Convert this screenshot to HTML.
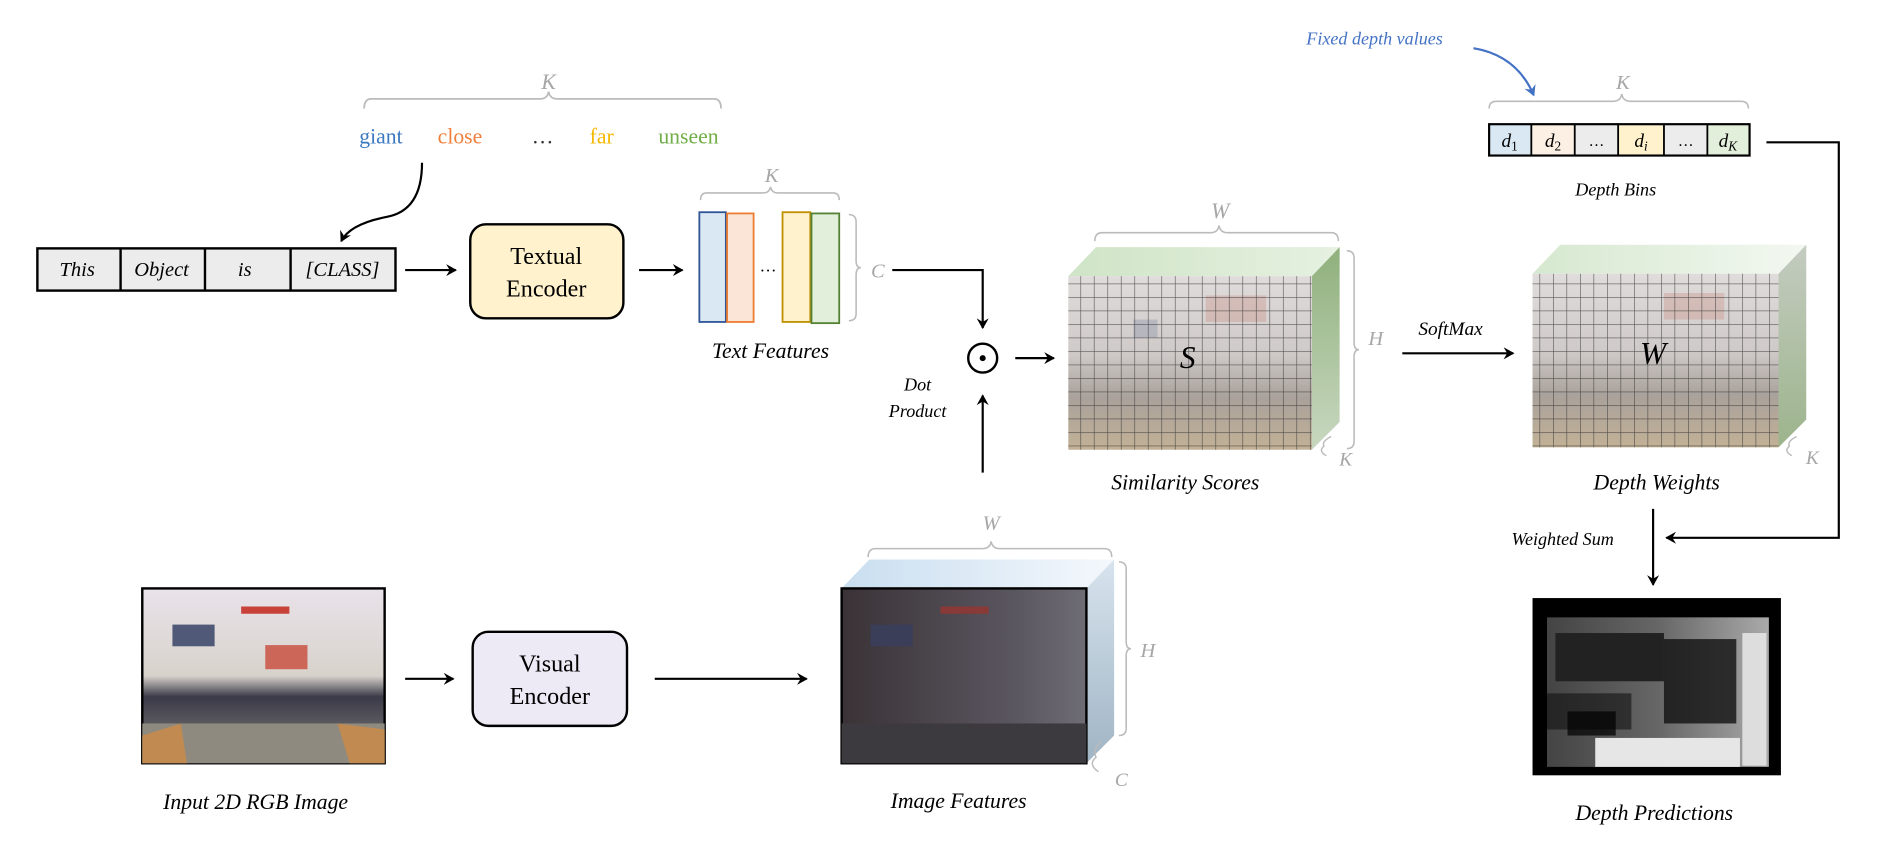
<!DOCTYPE html>
<html><head><meta charset="utf-8"><style>
html,body{margin:0;padding:0;background:#fff;}
svg{display:block;}
text{font-family:"Liberation Serif",serif;}
.g{fill:#a6a6a6;font-style:italic;}
</style></head><body>
<svg width="1881" height="852" viewBox="0 0 1560 706.6" preserveAspectRatio="none" xmlns="http://www.w3.org/2000/svg">
<defs>
<marker id="ah" markerWidth="10" markerHeight="10" refX="8" refY="5" orient="auto" markerUnits="userSpaceOnUse">
<path d="M0,0 L9,5 L0,10 L3,5 Z" fill="#000"/></marker>
<marker id="ahb" markerWidth="10" markerHeight="10" refX="8" refY="5" orient="auto" markerUnits="userSpaceOnUse">
<path d="M0,0 L9,5 L0,10 L3,5 Z" fill="#4472c4"/></marker>
<pattern id="grid" width="11.2" height="11.2" patternUnits="userSpaceOnUse">
<path d="M11.2,0 L0,0 0,11.2" fill="none" stroke="#333" stroke-width="1" opacity="0.8"/></pattern>
<linearGradient id="room" x1="0" y1="0" x2="0" y2="1">
<stop offset="0" stop-color="#e0dcdc"/><stop offset="0.45" stop-color="#cfcac8"/><stop offset="0.7" stop-color="#a9a19b"/><stop offset="1" stop-color="#c2b196"/></linearGradient>
<linearGradient id="topg" x1="0" y1="0" x2="1" y2="0"><stop offset="0" stop-color="#cfe4c6"/><stop offset="1" stop-color="#e6f1e1"/></linearGradient>
<linearGradient id="topg2" x1="0" y1="0" x2="1" y2="0"><stop offset="0" stop-color="#d6e8cf"/><stop offset="1" stop-color="#f3f8f1"/></linearGradient>
<linearGradient id="sideg" x1="0" y1="0" x2="0" y2="1"><stop offset="0" stop-color="#8fb07c"/><stop offset="1" stop-color="#c8d8c0"/></linearGradient>
<linearGradient id="sideg2" x1="0" y1="0" x2="0" y2="1"><stop offset="0" stop-color="#c4ccc0"/><stop offset="1" stop-color="#9cb48c"/></linearGradient>
<linearGradient id="topb" x1="0" y1="0" x2="1" y2="0"><stop offset="0" stop-color="#c9def0"/><stop offset="1" stop-color="#f4f8fc"/></linearGradient>
<linearGradient id="sideb" x1="0" y1="0" x2="0" y2="1"><stop offset="0" stop-color="#d8e4ee"/><stop offset="1" stop-color="#9fb4c4"/></linearGradient>
<linearGradient id="photo" x1="0" y1="0" x2="0" y2="1"><stop offset="0" stop-color="#e9e3ea"/><stop offset="0.5" stop-color="#d8d2cc"/><stop offset="0.62" stop-color="#3a3a48"/><stop offset="1" stop-color="#8a8680"/></linearGradient>
<linearGradient id="dark" x1="0" y1="0" x2="1" y2="0"><stop offset="0" stop-color="#3a3236"/><stop offset="0.7" stop-color="#5a5660"/><stop offset="1" stop-color="#6e6c74"/></linearGradient>
<linearGradient id="dep" x1="0" y1="0" x2="1" y2="0"><stop offset="0" stop-color="#444"/><stop offset="0.5" stop-color="#666"/><stop offset="1" stop-color="#aaa"/></linearGradient>
</defs>

<text x="455" y="74" class="g" font-size="18" text-anchor="middle">K</text>
<path d="M302,90 Q302,82 308,82 L448,82 Q454,82 455,76 Q456,82 462,82 L592,82 Q598,82 598,90" fill="none" stroke="#bbb" stroke-width="1.5"/>
<g font-size="18">
<text x="298" y="119" fill="#3a78c0">giant</text>
<text x="363" y="119" fill="#f07f3c">close</text>
<text x="441" y="119" fill="#333">…</text>
<text x="489" y="119" fill="#f5b800">far</text>
<text x="546" y="119" fill="#70ad47">unseen</text>
</g>
<path d="M350,135 Q350,175 320,180 Q290,186 283,200" fill="none" stroke="#000" stroke-width="1.8" marker-end="url(#ah)"/>

<rect x="31" y="206" width="297" height="35" fill="#ececec" stroke="#000" stroke-width="2"/>
<line x1="100" y1="206" x2="100" y2="241" stroke="#000" stroke-width="2"/>
<line x1="170" y1="206" x2="170" y2="241" stroke="#000" stroke-width="2"/>
<line x1="241" y1="206" x2="241" y2="241" stroke="#000" stroke-width="2"/>
<g font-size="17" text-anchor="middle" font-style="italic">
<text x="64" y="229">This</text><text x="134" y="229">Object</text><text x="203" y="229">is</text><text x="284" y="229">[CLASS]</text></g>
<line x1="336" y1="224" x2="378" y2="224" stroke="#000" stroke-width="1.8" marker-end="url(#ah)"/>
<rect x="390" y="186" width="127" height="78" rx="13" fill="#fff2cc" stroke="#000" stroke-width="2"/>
<text x="453" y="219" font-size="20" text-anchor="middle">Textual</text>
<text x="453" y="246" font-size="20" text-anchor="middle">Encoder</text>
<line x1="530" y1="224" x2="566" y2="224" stroke="#000" stroke-width="1.8" marker-end="url(#ah)"/>

<text x="640" y="151" class="g" font-size="17" text-anchor="middle">K</text>
<path d="M581,166 Q581,160 586,160 L633,160 Q638,160 639,155 Q640,160 645,160 L691,160 Q696,160 696,166" fill="none" stroke="#bbb" stroke-width="1.3"/>
<rect x="580" y="176" width="22" height="91" fill="#dae8f4" stroke="#2f5597" stroke-width="1.5"/>
<rect x="603" y="177" width="22" height="90" fill="#fbe5d6" stroke="#ed7d31" stroke-width="1.5"/>
<text x="630" y="225" font-size="14">…</text>
<rect x="649" y="176" width="23" height="91" fill="#fff2cc" stroke="#c09000" stroke-width="1.5"/>
<rect x="673" y="177" width="23" height="91" fill="#e2efda" stroke="#548235" stroke-width="1.5"/>
<path d="M704,178 Q710,178 710,184 L710,216 Q710,222 714,222 Q710,222 710,228 L710,260 Q710,266 704,266" fill="none" stroke="#bbb" stroke-width="1.3"/>
<text x="728" y="230" class="g" font-size="17" text-anchor="middle">C</text>
<text x="639" y="297" font-size="18" font-style="italic" text-anchor="middle">Text Features</text>

<polyline points="740,224 815,224 815,272" fill="none" stroke="#000" stroke-width="1.8" marker-end="url(#ah)"/>
<circle cx="815" cy="297" r="12" fill="none" stroke="#000" stroke-width="2"/>
<circle cx="815" cy="297" r="2.5" fill="#000"/>
<line x1="815" y1="392" x2="815" y2="328" stroke="#000" stroke-width="1.8" marker-end="url(#ah)"/>
<text x="761" y="324" font-size="15" font-style="italic" text-anchor="middle">Dot</text>
<text x="761" y="346" font-size="15" font-style="italic" text-anchor="middle">Product</text>
<line x1="842" y1="297" x2="874" y2="297" stroke="#000" stroke-width="1.8" marker-end="url(#ah)"/>

<text x="1012" y="181" class="g" font-size="18" text-anchor="middle">W</text>
<path d="M908,200 Q908,193 914,193 L1004,193 Q1010,193 1011,187 Q1012,193 1018,193 L1104,193 Q1110,193 1110,200" fill="none" stroke="#bbb" stroke-width="1.3"/>
<polygon points="886,229 1088,229 1111,205 909,205" fill="url(#topg)"/>
<polygon points="1088,229 1111,205 1111,350 1088,373" fill="url(#sideg)"/>
<rect x="886" y="229" width="202" height="144" fill="url(#room)"/>
<rect x="1000" y="245" width="50" height="22" fill="#c98b80" opacity="0.35"/>
<rect x="940" y="265" width="20" height="15" fill="#8a90a8" opacity="0.4"/>
<rect x="886" y="229" width="202" height="144" fill="url(#grid)"/>
<text x="985" y="305" font-size="26" font-style="italic" text-anchor="middle">S</text>
<path d="M1117,208 Q1123,208 1123,214 L1123,284 Q1123,290 1127,290 Q1123,290 1123,296 L1123,366 Q1123,372 1117,372" fill="none" stroke="#bbb" stroke-width="1.3"/>
<text x="1141" y="286" class="g" font-size="17" text-anchor="middle">H</text>
<path d="M1104,362 Q1096,366 1098,370 Q1093,374 1100,378" fill="none" stroke="#bbb" stroke-width="1.2"/>
<text x="1116" y="386" class="g" font-size="16" text-anchor="middle">K</text>
<text x="983" y="406" font-size="18" font-style="italic" text-anchor="middle">Similarity Scores</text>

<text x="1203" y="278" font-size="16" font-style="italic" text-anchor="middle">SoftMax</text>
<line x1="1163" y1="293" x2="1255" y2="293" stroke="#000" stroke-width="1.8" marker-end="url(#ah)"/>

<polygon points="1271,227 1475,227 1498,203 1294,203" fill="url(#topg2)"/>
<polygon points="1475,227 1498,203 1498,348 1475,371" fill="url(#sideg2)"/>
<rect x="1271" y="227" width="204" height="144" fill="url(#room)"/>
<rect x="1380" y="243" width="50" height="22" fill="#c98b80" opacity="0.35"/>
<rect x="1271" y="227" width="204" height="144" fill="url(#grid)"/>
<text x="1371" y="302" font-size="26" font-style="italic" text-anchor="middle">W</text>
<path d="M1490,362 Q1482,366 1484,370 Q1479,374 1486,378" fill="none" stroke="#bbb" stroke-width="1.2"/>
<text x="1503" y="385" class="g" font-size="16" text-anchor="middle">K</text>
<text x="1374" y="406" font-size="18" font-style="italic" text-anchor="middle">Depth Weights</text>

<text x="1140" y="37" font-size="15" font-style="italic" fill="#4472c4" text-anchor="middle">Fixed depth values</text>
<path d="M1222,40 Q1258,46 1272,79" fill="none" stroke="#4472c4" stroke-width="1.8" marker-end="url(#ahb)"/>
<text x="1346" y="74" class="g" font-size="17" text-anchor="middle">K</text>
<path d="M1235,90 Q1235,84 1241,84 L1338,84 Q1344,84 1345,78 Q1346,84 1352,84 L1444,84 Q1450,84 1450,90" fill="none" stroke="#bbb" stroke-width="1.3"/>
<rect x="1235" y="103" width="35" height="26" fill="#dae8f4"/>
<rect x="1270" y="103" width="36" height="26" fill="#fcefe4"/>
<rect x="1306" y="103" width="36" height="26" fill="#ececec"/>
<rect x="1342" y="103" width="38" height="26" fill="#fff2cc"/>
<rect x="1380" y="103" width="36" height="26" fill="#ececec"/>
<rect x="1416" y="103" width="35" height="26" fill="#e2efda"/>
<rect x="1235" y="103" width="216" height="26" fill="none" stroke="#000" stroke-width="1.8"/>
<g stroke="#000" stroke-width="1.5"><line x1="1270" y1="103" x2="1270" y2="129"/><line x1="1306" y1="103" x2="1306" y2="129"/><line x1="1342" y1="103" x2="1342" y2="129"/><line x1="1380" y1="103" x2="1380" y2="129"/><line x1="1416" y1="103" x2="1416" y2="129"/></g>
<g font-size="16" font-style="italic" text-anchor="middle">
<text x="1252" y="122">d<tspan font-size="11" dy="3" font-style="normal">1</tspan></text>
<text x="1288" y="122">d<tspan font-size="11" dy="3" font-style="normal">2</tspan></text>
<text x="1324" y="121" font-style="normal" font-size="13">…</text>
<text x="1361" y="122">d<tspan font-size="11" dy="3">i</tspan></text>
<text x="1398" y="121" font-style="normal" font-size="13">…</text>
<text x="1433" y="122">d<tspan font-size="11" dy="3">K</tspan></text></g>
<text x="1340" y="162" font-size="15" font-style="italic" text-anchor="middle">Depth Bins</text>
<polyline points="1465,118 1525,118 1525,446 1382,446" fill="none" stroke="#000" stroke-width="1.8" marker-end="url(#ah)"/>
<line x1="1371" y1="422" x2="1371" y2="485" stroke="#000" stroke-width="1.8" marker-end="url(#ah)"/>
<text x="1296" y="452" font-size="15" font-style="italic" text-anchor="middle">Weighted Sum</text>

<rect x="1271" y="496" width="206" height="147" fill="#000"/>
<rect x="1283" y="512" width="184" height="124" fill="url(#dep)"/>
<rect x="1290" y="525" width="90" height="40" fill="#222"/>
<rect x="1380" y="530" width="60" height="70" fill="#111" opacity="0.8"/>
<rect x="1283" y="575" width="70" height="30" fill="#111" opacity="0.6"/>
<rect x="1300" y="590" width="40" height="20" fill="#000" opacity="0.7"/>
<rect x="1323" y="612" width="120" height="24" fill="#e6e6e6"/>
<rect x="1445" y="525" width="20" height="110" fill="#ddd"/>
<text x="1372" y="680" font-size="18" font-style="italic" text-anchor="middle">Depth Predictions</text>

<rect x="118" y="488" width="201" height="145" fill="url(#photo)" stroke="#000" stroke-width="2"/>
<rect x="143" y="518" width="35" height="18" fill="#505a78"/>
<rect x="200" y="503" width="40" height="6" fill="#c8423a"/>
<rect x="220" y="535" width="35" height="20" fill="#c84a3a" opacity="0.8"/>
<rect x="118" y="600" width="201" height="33" fill="#8f8a80"/>
<polygon points="118,610 150,600 155,633 118,633" fill="#c08a50"/>
<polygon points="280,600 319,605 319,633 290,633" fill="#c08a50"/>
<text x="212" y="671" font-size="18" font-style="italic" text-anchor="middle">Input 2D RGB Image</text>
<line x1="336" y1="563" x2="376" y2="563" stroke="#000" stroke-width="1.8" marker-end="url(#ah)"/>
<rect x="392" y="524" width="128" height="78" rx="13" fill="#eeeaf5" stroke="#000" stroke-width="2"/>
<text x="456" y="557" font-size="20" text-anchor="middle">Visual</text>
<text x="456" y="584" font-size="20" text-anchor="middle">Encoder</text>
<line x1="543" y1="563" x2="669" y2="563" stroke="#000" stroke-width="1.8" marker-end="url(#ah)"/>

<text x="822" y="439" class="g" font-size="17" text-anchor="middle">W</text>
<path d="M720,462 Q720,455 726,455 L815,455 Q821,455 822,449 Q823,455 829,455 L916,455 Q922,455 922,462" fill="none" stroke="#bbb" stroke-width="1.3"/>
<polygon points="698,488 901,488 924,464 721,464" fill="url(#topb)"/>
<polygon points="901,488 924,464 924,610 901,633" fill="url(#sideb)"/>
<rect x="698" y="488" width="203" height="145" fill="url(#dark)" stroke="#000" stroke-width="2"/>
<rect x="722" y="518" width="35" height="18" fill="#3a3e58"/>
<rect x="780" y="503" width="40" height="6" fill="#8a3a36"/>
<rect x="698" y="600" width="203" height="33" fill="#3c3a3e"/>
<path d="M928,466 Q934,466 934,472 L934,532 Q934,538 938,538 Q934,538 934,544 L934,604 Q934,610 928,610" fill="none" stroke="#bbb" stroke-width="1.3"/>
<text x="952" y="545" class="g" font-size="17" text-anchor="middle">H</text>
<path d="M913,615 Q906,622 909,628 Q902,634 911,640" fill="none" stroke="#bbb" stroke-width="1.2"/>
<text x="930" y="652" class="g" font-size="16" text-anchor="middle">C</text>
<text x="795" y="670" font-size="18" font-style="italic" text-anchor="middle">Image Features</text>
</svg>
</body></html>
